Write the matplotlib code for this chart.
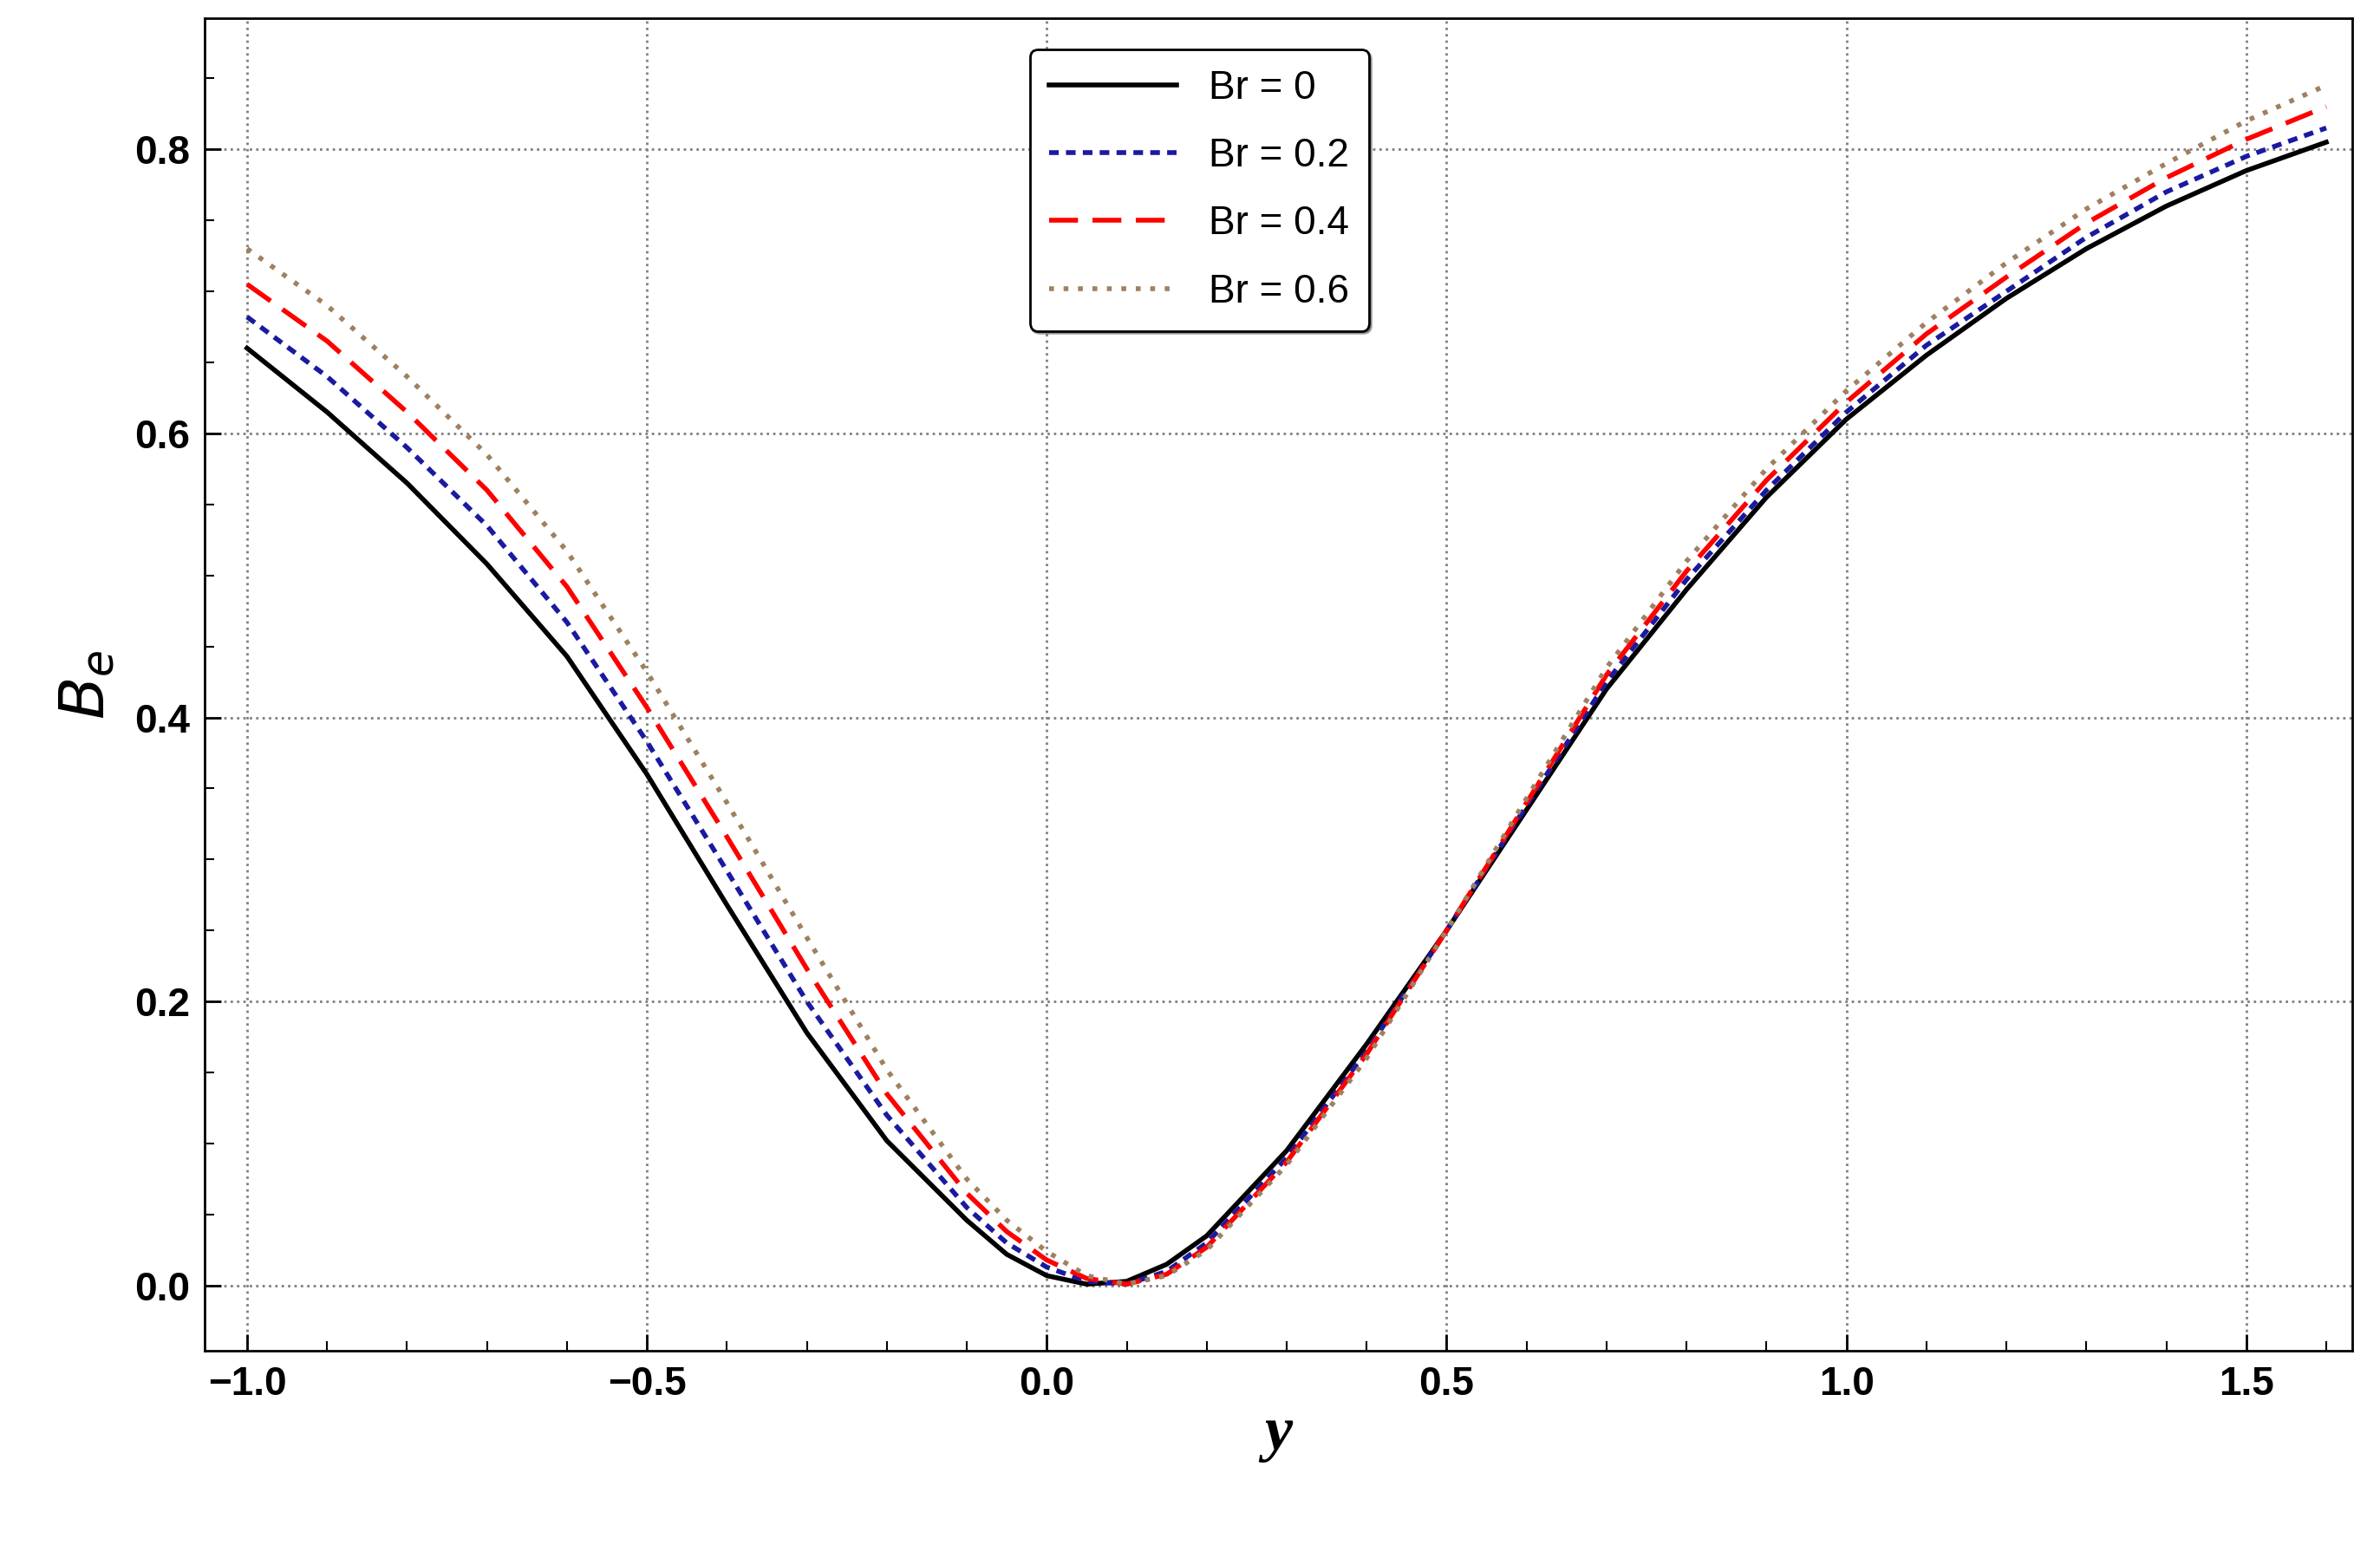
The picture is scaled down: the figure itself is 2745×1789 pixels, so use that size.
import numpy as np
import matplotlib.pyplot as plt
from matplotlib.ticker import MultipleLocator

y = [-1.0, -0.9, -0.8, -0.7, -0.6, -0.5, -0.4, -0.3, -0.2, -0.1, -0.05, 0.0, 0.05, 0.1, 0.15, 0.2,
     0.3, 0.4, 0.5, 0.6, 0.7, 0.8, 0.9, 1.0, 1.1, 1.2, 1.3, 1.4, 1.5, 1.6]
be0 = [.66, .615, .565, .508, .443, .36, .268, .178, .102, .046, .022, .007, .001, .003, .015, .035,
       .095, .17, .25, .335, .42, .49, .555, .61, .655, .695, .73, .76, .785, .805]
be2 = [.682, .64, .59, .535, .467, .383, .292, .2, .12, .055, .03, .013, .003, .001, .01, .03,
       .09, .165, .25, .338, .425, .497, .56, .615, .662, .70, .738, .77, .795, .815]
be4 = [.705, .665, .615, .56, .492, .407, .316, .223, .135, .065, .038, .018, .005, .001, .008, .027,
       .087, .163, .25, .34, .43, .503, .567, .622, .67, .71, .748, .78, .807, .83]
be6 = [.73, .69, .64, .585, .517, .432, .34, .245, .152, .075, .046, .024, .007, .001, .007, .025,
       .085, .16, .25, .343, .435, .51, .575, .63, .678, .72, .758, .79, .82, .845]

fig = plt.figure(figsize=(27.45, 17.89), dpi=100)
ax = fig.add_axes([0.086, 0.129, 0.9025, 0.859])

ax.plot(y, be0, color='black', lw=4, label='Br = 0')
ax.plot(y, be2, color='#1a1aa0', lw=4, ls=(0, (2, 1.5)), label='Br = 0.2')
ax.plot(y, be4, color='red', lw=4, ls=(0, (6, 3)), label='Br = 0.4')
ax.plot(y, be6, color='#a08060', lw=4, ls=(0, (1, 2)), label='Br = 0.6')

ax.set_xlim(-1.053, 1.633)
ax.set_ylim(-0.046, 0.892)
ax.xaxis.set_major_locator(MultipleLocator(0.5))
ax.xaxis.set_minor_locator(MultipleLocator(0.1))
ax.yaxis.set_major_locator(MultipleLocator(0.2))
ax.yaxis.set_minor_locator(MultipleLocator(0.05))
ax.xaxis.set_major_formatter(lambda v, p: f'{v:.1f}'.replace('-', '\u2212'))
ax.yaxis.set_major_formatter(lambda v, p: f'{v:.1f}')
ax.grid(True, which='major', ls=':', color='gray', lw=2)
ax.tick_params(which='major', direction='in', length=14, width=2, labelsize=33, pad=12)
ax.tick_params(which='minor', direction='in', length=8, width=1.5)
for lab in ax.get_xticklabels() + ax.get_yticklabels():
    lab.set_fontweight('bold')
    lab.set_family('Liberation Sans')
for s in ax.spines.values():
    s.set_linewidth(2)

ax.set_xlabel('y', fontsize=52, family='Liberation Serif', style='italic', fontweight='bold', labelpad=2)
ax.set_ylabel(r'$\mathbf{\mathit{B}_{\mathit{e}}}$', fontsize=52, family='DejaVu Serif', labelpad=15)
plt.rcParams['mathtext.fontset'] = 'stix'

leg = ax.legend(loc='upper center', bbox_to_anchor=(0.463, 0.992), prop={'family': 'Liberation Sans', 'size': 33},
                handlelength=3.2, fancybox=True, shadow=True, framealpha=1,
                edgecolor='black', borderpad=0.5, labelspacing=0.75)
leg.get_frame().set_linewidth(2)

fig.savefig('out.png')
